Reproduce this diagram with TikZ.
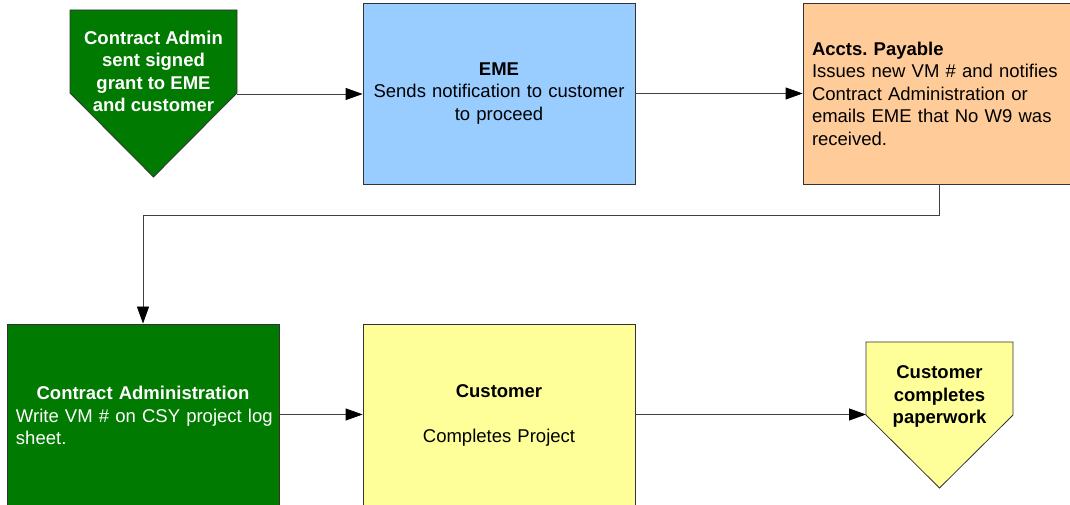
\documentclass[tikz,border=0pt]{standalone}
\usepackage{fontspec}
\setmainfont{Liberation Sans}
\usetikzlibrary{arrows.meta,positioning}

\definecolor{admingreen}{RGB}{0,122,0}
\definecolor{emeblue}{RGB}{153,204,255}
\definecolor{payorange}{RGB}{255,204,153}
\definecolor{custyellow}{RGB}{255,255,153}
\frenchspacing

\begin{document}
\begin{tikzpicture}[x=1pt,y=1pt,
    box/.style={draw=black!80,line width=0.8pt,minimum width=272pt,minimum height=181pt,
        text width=254pt,inner xsep=9pt,font=\fontsize{18.5}{22.5}\selectfont},
    tag/.style={fill=#1,draw=black!80,line width=0.8pt},
    tagtext/.style={align=center,inner sep=0pt,font=\fontsize{18.5}{22.5}\selectfont\bfseries},
    flow/.style={draw=black!75,line width=0.8pt,-{Triangle[length=17pt,width=12pt,color=black]}}]
        \useasboundingbox (0,0) rectangle (1070,505);

        %%% TOP ROW %%%
        \filldraw[tag=admingreen] (70,495) -- (237,495) -- (237,412) -- (153.5,328) -- (70,412) -- cycle;
        \node[tagtext,text=white] (grant) at (153.5,433.5) {Contract Admin\\sent signed\\grant to EME\\and customer};
        \coordinate (grant out) at (237,411);
        \node[box,fill=emeblue,align=center] (eme) at (499,411.5) {\textbf{EME}\\Sends notification to customer\\to proceed};
        \node[box,fill=payorange,align=left] (accts) at (939,411.5)
            {\textbf{Accts. Payable}\\Issues new VM \# and notifies\\Contract Administration or\\emails EME that No W9 was\\received.};

        %%% BOTTOM ROW %%%
        \node[box,fill=admingreen,text=white,align=left,minimum height=183pt] (cadmin) at (143,89.5)
            {\makebox[254pt]{\textbf{Contract Administration}}\\\mbox{Write VM \# on CSY project log}\\sheet.};
        \node[box,fill=custyellow,align=center,minimum height=183pt] (customer) at (499,89.5)
            {\textbf{Customer}\\[22.5pt]Completes Project};
        \filldraw[tag=custyellow] (866,163) -- (1013,163) -- (1013,90) -- (939.5,17) -- (866,90) -- cycle;
        \node[tagtext] (paperwork) at (939.5,108.5) {Customer\\completes\\paperwork};
        \coordinate (paper in) at (866,90.5);

        %%% CONNECTORS %%%
        \draw[flow] (grant out) -- (eme.west |- grant out);
        \draw[flow] (eme.east) -- (accts.west);
        \draw[flow] (accts.south) -- ++(0,-31) -| (cadmin.north);
        \draw[flow] (cadmin.east |- paper in) -- (customer.west |- paper in);
        \draw[flow] (customer.east |- paper in) -- (paper in);
    \end{tikzpicture}
\end{document}
